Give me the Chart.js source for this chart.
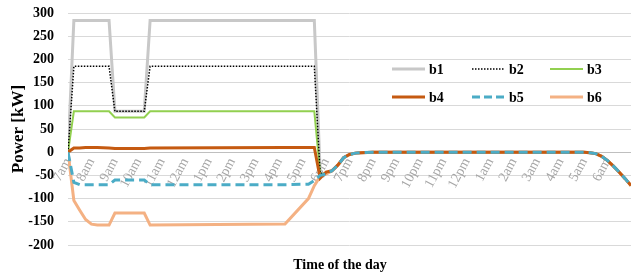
<!DOCTYPE html>
<html>
<head>
<meta charset="utf-8">
<script src="https://cdn.jsdelivr.net/npm/chart.js@4"></script>
<style>
  html, body { margin: 0; padding: 0; background: #fff; }
</style>
</head>
<body>
<canvas id="chart" width="631" height="274"></canvas>
<script>
// hours after 7am
const hours = [0, 0.25, 0.5, 0.75, 1, 1.25, 1.75, 2, 3.25, 3.5, 9.25, 10.25, 10.5, 10.75, 11,
  11.25, 11.5, 11.75, 12, 12.25, 12.5, 13, 22, 22.25, 22.5, 22.75, 23, 23.25, 23.5, 23.75, 24];

const hourLabels = ['7am', '8am', '9am', '10am', '11am', '12am', '1pm', '2pm', '3pm', '4pm', '5pm', '6pm',
  '7pm', '8pm', '9pm', '10pm', '11pm', '12pm', '1am', '2am', '3am', '4am', '5am', '6am'];

const b1 = [0, 284, 284, 284, 284, 284, 284, 88, 88, 284, 284, 284, 284, -45, -47,
  -40, -28, -12, -5, -2, -1, 0, 0, -1, -3, -9, -18, -30, -43, -57, -72];
const b2 = [0, 185, 185, 185, 185, 185, 185, 88, 88, 185, 185, 185, 185, -45, -47,
  -40, -28, -12, -5, -2, -1, 0, 0, -1, -3, -9, -18, -30, -43, -57, -72];
const b3 = [0, 88, 88, 88, 88, 88, 88, 75, 75, 88, 88, 88, 88, -46, -47,
  -40, -28, -12, -5, -2, -1, 0, 0, -1, -3, -9, -18, -30, -43, -57, -72];
const b4 = [0, 9, 9, 10, 10, 10, 9, 8, 8, 9, 10, 10, 10, -56, -43,
  -40, -28, -12, -5, -2, -1, 0, 0, -1, -3, -9, -18, -30, -43, -57, -72];
const b5 = [0, -65, -70, -70, -70, -70, -70, -60, -60, -70, -70, -69, -61, -50, -47,
  -40, -28, -12, -5, -2, -1, 0, 0, -1, -3, -9, -18, -30, -43, -57, -72];
const b6 = [0, -104, -125, -145, -155, -157, -157, -131, -131, -157, -155, -100, -72, -52, -47,
  -40, -28, -12, -5, -2, -1, 0, 0, -1, -3, -9, -18, -30, -43, -57, -72];

const serif = '"Liberation Serif", "Times New Roman", serif';

const pts = arr => hours.map((h, i) => ({ x: h, y: arr[i] }));

const legendBox = {
  id: 'legendBox',
  afterDraw(chart) {
    const ctx = chart.ctx;
    const cols = [392, 472, 550];
    const rows = [69, 97];
    chart.data.datasets.forEach((ds, i) => {
      const x = cols[i % 3], y = rows[Math.floor(i / 3)];
      ctx.save();
      ctx.strokeStyle = ds.borderColor;
      ctx.lineWidth = ds.borderWidth;
      ctx.setLineDash(ds.legendDash || []);
      ctx.beginPath();
      ctx.moveTo(x, y);
      ctx.lineTo(x + 33, y);
      ctx.stroke();
      ctx.setLineDash([]);
      ctx.fillStyle = '#000';
      ctx.font = 'bold 14px ' + serif;
      ctx.textBaseline = 'middle';
      ctx.fillText(ds.label, x + 37, y + 1);
      ctx.restore();
    });
    ctx.save();
    ctx.fillStyle = '#000';
    ctx.font = 'bold 14px ' + serif;
    ctx.textAlign = 'center';
    ctx.textBaseline = 'middle';
    ctx.fillText('Time of the day', 340, 265);
    ctx.restore();
  }
};

new Chart(document.getElementById('chart'), {
  type: 'line',
  data: {
    datasets: [
      { label: 'b1', data: pts(b1), borderColor: '#c8c8c8', borderWidth: 3, order: 5 },
      { label: 'b2', data: pts(b2), borderColor: '#000000', borderWidth: 1.5, borderDash: [1.5, 1.5], legendDash: [1.5, 1.5], order: 3 },
      { label: 'b3', data: pts(b3), borderColor: '#92d050', borderWidth: 2, order: 4 },
      { label: 'b4', data: pts(b4), borderColor: '#c55a11', borderWidth: 3, order: 1 },
      { label: 'b5', data: pts(b5), borderColor: '#4bacc6', borderWidth: 3, borderDash: [9, 5], legendDash: [8, 4], order: 0 },
      { label: 'b6', data: pts(b6), borderColor: '#f4b183', borderWidth: 3, order: 2 }
    ]
  },
  options: {
    responsive: false,
    animation: false,
    layout: { padding: { top: 13, right: 0, bottom: 29, left: 0 } },
    elements: { point: { radius: 0 }, line: { tension: 0 } },
    plugins: { legend: { display: false }, tooltip: { enabled: false } },
    scales: {
      x: {
        type: 'linear',
        position: { y: 0 },
        min: 0,
        max: 24,
        afterBuildTicks: s => { s.ticks = hourLabels.map((_, i) => ({ value: i })); },
        afterFit: s => { s.paddingTop = 0; s.paddingBottom = 0; s.paddingRight = 0; },
        grid: { display: false, drawTicks: false },
        border: { display: true, color: '#bfbfbf', width: 1 },
        ticks: {
          autoSkip: false,
          minRotation: 62,
          maxRotation: 62,
          padding: 3,
          color: '#a6a6a6',
          font: { family: serif, size: 14 },
          callback: v => hourLabels[v]
        }
      },
      y: {
        min: -200,
        max: 300,
        afterFit: s => { s.width = 68; s.paddingTop = 8; s.paddingBottom = 8; },
        border: { display: false },
        grid: { color: '#d9d9d9', drawTicks: false },
        ticks: { stepSize: 50, padding: 14, color: '#000', font: { family: serif, size: 14, weight: 'bold' } },
        title: { display: true, text: 'Power [kW]', color: '#000', padding: { top: 8, bottom: 0 },
          font: { family: serif, size: 17, weight: 'bold' } }
      }
    }
  },
  plugins: [legendBox]
});
</script>
</body>
</html>
